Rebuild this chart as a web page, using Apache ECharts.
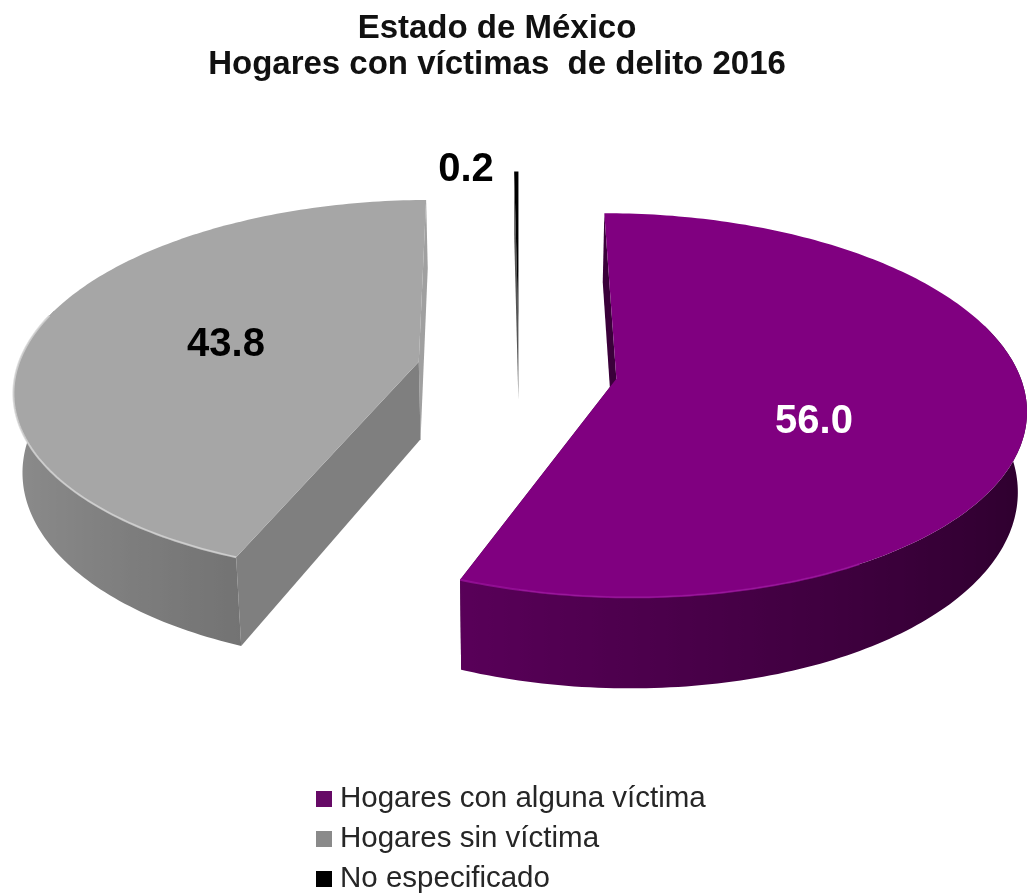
<!DOCTYPE html>
<html lang="es">
<head>
  <meta charset="UTF-8">
  <title>Hogares con víctimas de delito 2016</title>
  <style>
    html,body{margin:0;padding:0;background:#fff;}
    #main{width:1027px;height:895px;}
  </style>
</head>
<body>
  <div id="main"></div>
  <script src="https://cdn.jsdelivr.net/npm/echarts@6/dist/echarts.min.js"></script>
  <script>
    const titleText='Estado de México\nHogares con víctimas  de delito 2016';
    const categories=['Hogares con alguna víctima','Hogares sin víctima','No especificado'];
    const values=[56.0,43.8,0.2];

    // aspecto de cada rebanada
    const topColors=['#800080','#a6a6a6','#000000'];
    const rimColors=[[128,0,128],[166,166,166],[40,40,40]];
    const cutColors=['#3a003a','#7f7f7f','#555555'];
    const endColors=['#3a003a','#a0a0a0','#777777'];
    const edgeColors=['#9a129c','#d4d4d4','#000000'];
    const legendColors=['#660a66','#8a8a8a','#000000'];
    const labelColors=['#ffffff','#000000','#000000'];
    const labelPos=[[814,422],[226,345],[466,170]];
    const nudgeX=[0,0,2];
    const zOrder=[3,2,1];

    // proyección en perspectiva
    const cx=517, cy=370, radX=402, radY=186, depth=78, persp=0.137, converge=0.018, explode=0.25;
    const rad=Math.PI/180;
    const total=values.reduce((a,b)=>a+b,0);

    function project(x,y,z){
      const s=1/(1+persp*y);
      return [cx+radX*x*s*(1-converge*z), cy+s*(-radY*y+depth*z)];
    }

    function sliceAngles(i){
      let start=0;
      for(let k=0;k<i;k++) start+=values[k]/total*360;
      return [start,start+values[i]/total*360];
    }

    function renderSlice(i,api){
      const a=sliceAngles(i);
      const mid=(a[0]+a[1])/2*rad;
      const ox=explode*Math.sin(mid), oy=explode*Math.cos(mid);
      const rim=(t,z)=>{
        const p=project(ox+Math.sin(t*rad),oy+Math.cos(t*rad),z);
        return [p[0]+nudgeX[i],p[1]];
      };
      const shift=(p)=>[p[0]+nudgeX[i],p[1]];
      const apexTop=shift(project(ox,oy,0)), apexBot=shift(project(ox,oy,1));
      const children=[];
      const poly=(points,fill)=>children.push({type:'polygon',shape:{points:points},style:{fill:fill}});

      // caras de corte
      poly([apexTop,rim(a[1],0),rim(a[1],1),apexBot],endColors[i]);
      poly([apexTop,rim(a[0],0),rim(a[0],1),apexBot],cutColors[i]);

      // pared exterior, solo la parte que mira al frente
      const angles=[];
      for(let t=a[0];t<a[1];t+=1) angles.push(t);
      angles.push(a[1]);
      const upper=[], lower=[], samples=[];
      angles.forEach(t=>{
        if(Math.cos(t*rad)>0.3) return;
        upper.push(rim(t,0));
        lower.unshift(rim(t,1));
        if(Math.cos(t*rad)<0.02) samples.push([rim(t,0)[0],0.6-0.25*Math.sin(t*rad)]);
      });
      if(upper.length>1){
        const xs=samples.map(s=>s[0]);
        const minX=Math.min(...xs), maxX=Math.max(...xs);
        const ordered=samples.slice().sort((p,q)=>p[0]-q[0]);
        const stops=ordered.map(s=>({
          offset:(s[0]-minX)/(maxX-minX),
          color:'rgb('+rimColors[i].map(v=>Math.round(v*s[1])).join(',')+')'
        }));
        poly(upper.concat(lower),new echarts.graphic.LinearGradient(0,0,1,0,stops));
      }

      // cara superior
      const topPts=[apexTop];
      for(let t=a[0];t<a[1];t+=1) topPts.push(rim(t,0));
      topPts.push(rim(a[1],0));
      children.push({type:'polygon',shape:{points:topPts},style:{fill:topColors[i]}});

      // brillo del borde frontal
      const edgeFrom=i===0?Math.max(a[0],150):Math.max(a[0],190);
      const edgeTo=i===0?a[1]:Math.min(a[1],285);
      if(edgeTo>edgeFrom&&i<2){
        const edge=[];
        for(let t=edgeFrom;t<=edgeTo;t+=1) edge.push(rim(t,0));
        edge.push(rim(edgeTo,0));
        children.push({type:'polyline',shape:{points:edge},style:{fill:'none',stroke:edgeColors[i],lineWidth:2,opacity:0.8}});
      }

      children.push({
        type:'text',
        style:{
          text:api.value(0).toFixed(1),
          x:labelPos[i][0],y:labelPos[i][1],
          fill:labelColors[i],
          font:'bold 40px "Liberation Sans", Arial, sans-serif',
          textAlign:'center',textVerticalAlign:'middle'
        }
      });
      return {type:'group',children:children};
    }

    const chart=echarts.init(document.querySelector('#main'),null,{renderer:'canvas'});
    chart.setOption({
      animation:false,
      backgroundColor:'#ffffff',
      title:{
        text:titleText,
        left:492,
        top:6,
        textAlign:'center',
        textStyle:{
          fontFamily:'"Liberation Sans", Arial, sans-serif',
          fontWeight:'bold',
          fontSize:33,
          lineHeight:36,
          color:'#111111'
        }
      },
      legend:{
        orient:'vertical',
        left:316,
        top:784,
        padding:0,
        height:111,
        itemWidth:16,
        itemHeight:16,
        itemGap:10,
        selectedMode:false,
        icon:'rect',
        data:categories.map((name,i)=>({name:name,itemStyle:{color:legendColors[i]}})),
        textStyle:{
          fontFamily:'"Liberation Sans", Arial, sans-serif',
          fontSize:29.5,
          color:'#262626',
          padding:[0,0,0,3]
        }
      },
      series:categories.map((name,i)=>({
        type:'custom',
        name:name,
        coordinateSystem:'none',
        silent:true,
        z:zOrder[i],
        itemStyle:{color:legendColors[i]},
        data:[[values[i]]],
        renderItem:(params,api)=>renderSlice(i,api)
      }))
    });
  </script>
</body>
</html>
